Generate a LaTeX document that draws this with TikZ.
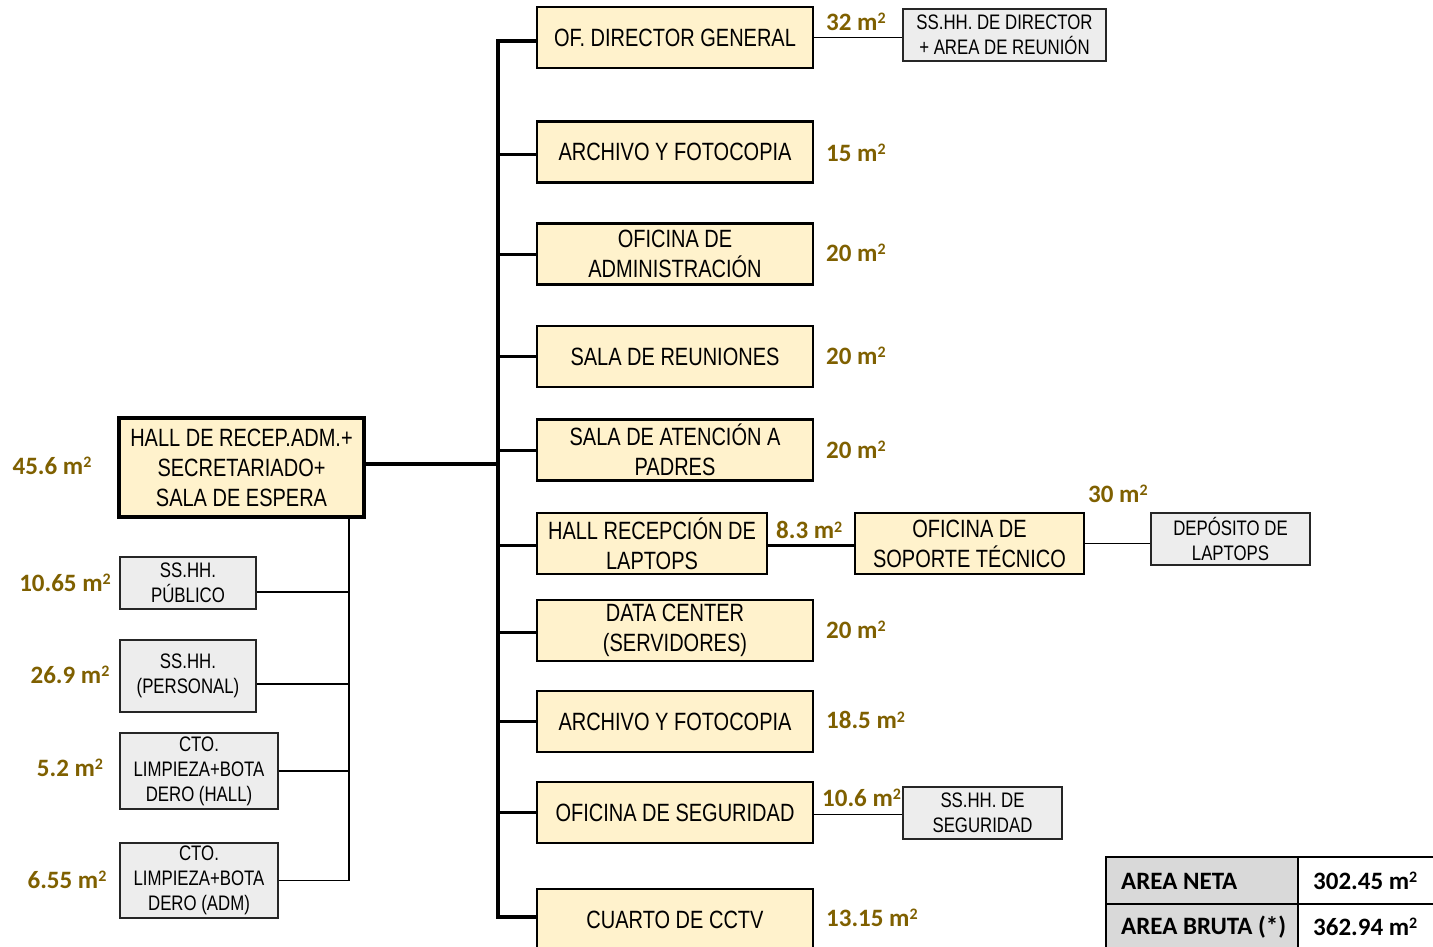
\documentclass[tikz,border=0pt]{standalone}
\usepackage{fontspec}
\newfontfamily\narrowfont{Liberation Sans}[FakeStretch=0.80]
\newfontfamily\labelfont{Carlito}
\usetikzlibrary{calc}
\definecolor{yfill}{HTML}{FFF2CC}
\definecolor{gfill}{HTML}{EDEDED}
\definecolor{goldtxt}{HTML}{7F6000}
\definecolor{tfill}{HTML}{D9D9D9}
\newcommand{\sqm}{m\raisebox{6.5pt}{\fontsize{16}{16}\selectfont 2}}
\tikzset{
  ybox/.style={draw=black, line width=2.6pt, fill=yfill, inner sep=0pt, align=center,
    minimum width=276pt, minimum height=61pt, text=black,
    font=\narrowfont\fontsize{25}{30}\selectfont},
  mainbox/.style={ybox, line width=4.5pt, minimum width=245pt, minimum height=99pt},
  gbox/.style={draw=black!85, line width=1.8pt, fill=gfill, inner sep=0pt, align=center,
    minimum height=52pt, text=black,
    font=\narrowfont\fontsize{21}{25}\selectfont},
  area/.style={text=goldtxt, inner sep=0pt, font=\labelfont\bfseries\fontsize{25}{30}\selectfont},
  tabtxt/.style={text=black, inner sep=0pt, anchor=west, font=\labelfont\bfseries\fontsize{25}{30}\selectfont},
  spine/.style={line width=4pt},
  branch/.style={line width=3pt},
  thinline/.style={line width=1.8pt},
}
\begin{document}
\begin{tikzpicture}[x=1pt,y=-1pt]
\useasboundingbox (0,0) rectangle (1433,947);
\clip (0,0) rectangle (1433,947);
\fill[white] (0,0) rectangle (1433,947);

% right column boxes
\node[ybox] (b1) at (675,37.5) {OF. DIRECTOR GENERAL};
\node[ybox] (b2) at (675,152) {ARCHIVO Y FOTOCOPIA};
\node[ybox] (b3) at (675,254) {OFICINA DE\\ADMINISTRACIÓN};
\node[ybox] (b4) at (675,356.5) {SALA DE REUNIONES};
\node[ybox] (b5) at (675,450) {SALA DE ATENCIÓN A\\PADRES};
\node[ybox, minimum width=230pt] (b6) at (652,543.5) {HALL RECEPCIÓN DE\\LAPTOPS};
\node[ybox] (b7) at (675,630.5) {DATA CENTER\\(SERVIDORES)};
\node[ybox] (b8) at (675,721.5) {ARCHIVO Y FOTOCOPIA};
\node[ybox] (b9) at (675,812.5) {OFICINA DE SEGURIDAD};
\node[ybox] (b10) at (675,919.5) {CUARTO DE CCTV};
\node[ybox, minimum width=229pt] (sop) at (969.5,543.5) {OFICINA DE\\SOPORTE TÉCNICO};
\node[gbox, minimum width=159pt] (dep) at (1230.5,539) {DEPÓSITO DE\\LAPTOPS};
\node[gbox, minimum width=203pt] (ssd) at (1004.5,35) {SS.HH. DE DIRECTOR\\+ AREA DE REUNIÓN};
\node[gbox, minimum width=159pt] (sss) at (982.5,813) {SS.HH. DE\\SEGURIDAD};

% left column
\node[mainbox] (hall) at (241.5,467.5) {HALL DE RECEP.ADM.+\\SECRETARIADO+\\SALA DE ESPERA};
\node[gbox, minimum width=136pt, minimum height=52pt] (pub) at (188,583) {SS.HH.\\PÚBLICO};
\node[gbox, minimum width=136pt, minimum height=72pt] (pers) at (188,676) {SS.HH.\\(PERSONAL)};
\node[gbox, minimum width=158pt, minimum height=76pt] (chall) at (199,771) {CTO.\\LIMPIEZA+BOTA\\DERO (HALL)};
\node[gbox, minimum width=158pt, minimum height=75pt] (cadm) at (199,880.5) {CTO.\\LIMPIEZA+BOTA\\DERO (ADM)};

% spine
\coordinate (sx) at (498,0);
\coordinate (lx) at (349,0);
\draw[spine] ([yshift=-4pt]b1.west) -- ([yshift=-4pt]b1.west -| sx) -- ([yshift=3pt]b10.west -| sx) -- ([yshift=3pt]b10.west);
\foreach \b/\s in {b2/-3,b3/0,b4/0,b5/0,b6/-2,b7/-2,b8/0,b9/0}
  \draw[branch] ([yshift=\s pt]\b.west) -- ([yshift=\s pt]\b.west -| sx);
\draw[spine] ([yshift=4pt]hall.east) -- ([yshift=4pt]hall.east -| sx);

% left thin tree
\draw[thinline] (hall.south -| lx) -- (cadm.east -| lx);
\draw[thinline] ([yshift=-9pt]pub.east) -- ([yshift=-9pt]pub.east -| lx);
\draw[thinline] ([yshift=-8pt]pers.east) -- ([yshift=-8pt]pers.east -| lx);
\draw[thinline] (chall.east) -- (chall.east -| lx);
\draw[thinline] (cadm.east) -- (cadm.east -| lx);

% right connectors
\draw[thinline] (b1.east) -- (b1.east -| ssd.west);
\draw[branch] ([yshift=-2pt]b6.east) -- ([yshift=-2pt]sop.west);
\draw[thinline] (sop.east) -- (sop.east -| dep.west);
\draw[thinline] ([yshift=-2pt]b9.east) -- ([yshift=-2pt]b9.east -| sss.west);

% area labels
\node[area] (a0) at (52,466) {45.6 \sqm};
\node[area] (a1) at (65,583) {10.65 \sqm};
\node[area] (a2) at (70,675) {26.9 \sqm};
\node[area] (a3) at (70,768) {5.2 \sqm};
\node[area] (a4) at (67,880) {6.55 \sqm};
\node[area, anchor=west] (r1) at (826,22) {32 \sqm};
\node[area, anchor=west] (r2) at (826,153) {15 \sqm};
\node[area, anchor=west] (r3) at (826,253) {20 \sqm};
\node[area, anchor=west] (r4) at (826,356) {20 \sqm};
\node[area, anchor=west] (r5) at (826,450) {20 \sqm};
\node[area, anchor=west] (r6) at (776,530) {8.3 \sqm};
\node[area, anchor=west] (r7) at (1088,494) {30 \sqm};
\node[area, anchor=west] (r8) at (826,630) {20 \sqm};
\node[area, anchor=west] (r9) at (826,720) {18.5 \sqm};
\node[area, anchor=west] (r10) at (822,798) {10.6 \sqm};
\node[area, anchor=west] (r11) at (826,918) {13.15 \sqm};

% table
\fill[tfill] (1106,857) rectangle (1298,965);
\draw[line width=2pt] (1106,965) -- (1106,857) -- (1450,857);
\draw[line width=2pt] (1106,904) -- (1450,904);
\draw[line width=2pt] (1298,857) -- (1298,965);
\node[tabtxt] (t1) at (1121,881) {AREA NETA};
\node[tabtxt] (t2) at (1313,881) {302.45 \sqm};
\node[tabtxt] (t3) at (1121,927) {AREA BRUTA (*)};
\node[tabtxt] (t4) at (1313,927) {362.94 \sqm};
\end{tikzpicture}
\end{document}
